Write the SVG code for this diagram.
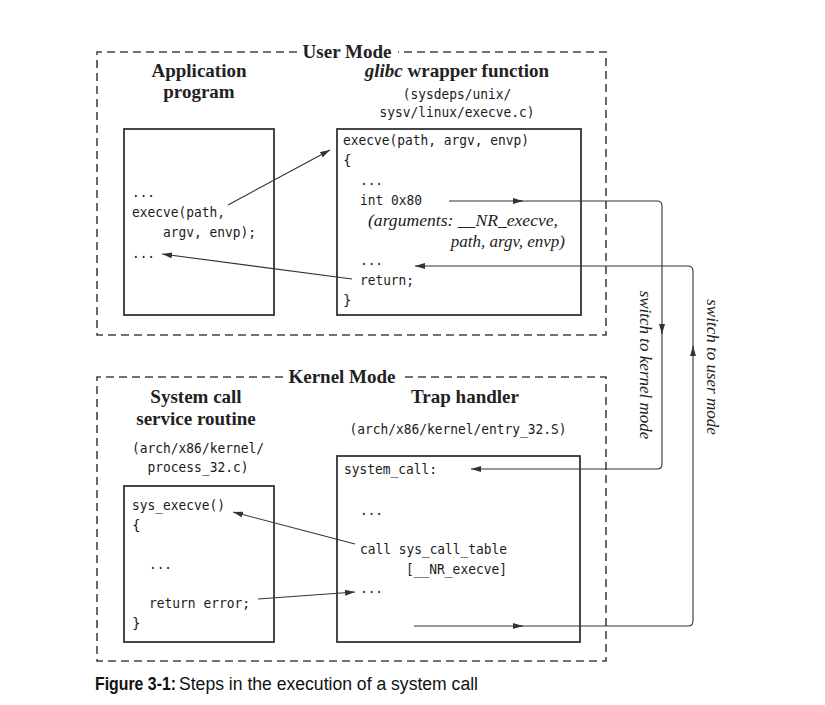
<svg xmlns="http://www.w3.org/2000/svg" width="825" height="705" viewBox="0 0 825 705">
<defs>
<style>
.dash{fill:none;stroke:#444;stroke-width:1.6;stroke-dasharray:8 5}
.box{fill:#fff;stroke:#333;stroke-width:1.8}
.con{fill:none;stroke:#333;stroke-width:1.1}
.h{font-family:"Liberation Serif",serif;font-weight:bold;font-size:19px;fill:#222}
.m{font-family:"DejaVu Sans Mono",monospace;font-size:14.2px;fill:#1a1a1a}
.it{font-family:"Liberation Serif",serif;font-style:italic;font-size:17px;fill:#222}
.cap{font-family:"Liberation Sans",sans-serif;font-size:18px;fill:#111}
</style>
<marker id="ah" viewBox="0 0 10 6" refX="10" refY="3" markerWidth="10" markerHeight="6" markerUnits="userSpaceOnUse" orient="auto">
<path d="M0,0 L10,3 L0,6 z" fill="#333"/>
</marker>
</defs>
<rect width="825" height="705" fill="#fff"/>

<g id="user-mode">
<path class="dash" d="M297,52 H97 V335 H606 V52 H398"/>
<text class="h" x="347" y="58" text-anchor="middle">User Mode</text>
</g>

<g id="kernel-mode">
<path class="dash" d="M283,377 H97 V661 H606 V377 H401"/>
<text class="h" x="342" y="383" text-anchor="middle">Kernel Mode</text>
</g>

<g id="app-program">
<text class="h" x="199" y="77" text-anchor="middle">Application</text>
<text class="h" x="199" y="98" text-anchor="middle">program</text>
<rect class="box" x="124" y="129" width="150" height="186"/>
<text class="m" x="132" y="197" textLength="23" lengthAdjust="spacingAndGlyphs">...</text>
<text class="m" x="132" y="217" textLength="93" lengthAdjust="spacingAndGlyphs">execve(path,</text>
<text class="m" x="163" y="237" textLength="93" lengthAdjust="spacingAndGlyphs">argv, envp);</text>
<text class="m" x="132" y="258" textLength="23" lengthAdjust="spacingAndGlyphs">...</text>
</g>

<g id="glibc-wrapper">
<text class="h" x="457" y="77" text-anchor="middle"><tspan font-style="italic">glibc</tspan> wrapper function</text>
<text class="m" x="457" y="99" text-anchor="middle" textLength="108.5" lengthAdjust="spacingAndGlyphs">(sysdeps/unix/</text>
<text class="m" x="457" y="117" text-anchor="middle" textLength="155" lengthAdjust="spacingAndGlyphs">sysv/linux/execve.c)</text>
<rect class="box" x="337" y="129" width="244" height="186"/>
<text class="m" x="343" y="145" textLength="186" lengthAdjust="spacingAndGlyphs">execve(path, argv, envp)</text>
<text class="m" x="343" y="165">{</text>
<text class="m" x="360" y="185" textLength="23" lengthAdjust="spacingAndGlyphs">...</text>
<text class="m" x="360" y="205" textLength="62" lengthAdjust="spacingAndGlyphs">int 0x80</text>
<text class="it" x="368" y="226" textLength="190" lengthAdjust="spacingAndGlyphs">(arguments: __NR_execve,</text>
<text class="it" x="565" y="247" text-anchor="end">path, argv, envp)</text>
<text class="m" x="360" y="265" textLength="23" lengthAdjust="spacingAndGlyphs">...</text>
<text class="m" x="360" y="285" textLength="54" lengthAdjust="spacingAndGlyphs">return;</text>
<text class="m" x="343" y="305">}</text>
</g>

<g id="service-routine">
<text class="h" x="196" y="403" text-anchor="middle">System call</text>
<text class="h" x="196" y="425" text-anchor="middle">service routine</text>
<text class="m" x="198" y="453" text-anchor="middle" textLength="132" lengthAdjust="spacingAndGlyphs">(arch/x86/kernel/</text>
<text class="m" x="198" y="472" text-anchor="middle" textLength="101" lengthAdjust="spacingAndGlyphs">process_32.c)</text>
<rect class="box" x="124" y="486" width="150" height="156"/>
<text class="m" x="132" y="510" textLength="93" lengthAdjust="spacingAndGlyphs">sys_execve()</text>
<text class="m" x="132" y="530">{</text>
<text class="m" x="149" y="569" textLength="23" lengthAdjust="spacingAndGlyphs">...</text>
<text class="m" x="149" y="608" textLength="101" lengthAdjust="spacingAndGlyphs">return error;</text>
<text class="m" x="132" y="628">}</text>
</g>

<g id="trap-handler">
<text class="h" x="465" y="403" text-anchor="middle">Trap handler</text>
<text class="m" x="458" y="434" text-anchor="middle" textLength="217" lengthAdjust="spacingAndGlyphs">(arch/x86/kernel/entry_32.S)</text>
<rect class="box" x="337" y="456" width="243" height="186"/>
<text class="m" x="344" y="474" textLength="93" lengthAdjust="spacingAndGlyphs">system_call:</text>
<text class="m" x="360" y="515" textLength="23" lengthAdjust="spacingAndGlyphs">...</text>
<text class="m" x="360" y="554" textLength="147" lengthAdjust="spacingAndGlyphs">call sys_call_table</text>
<text class="m" x="406" y="574" textLength="101" lengthAdjust="spacingAndGlyphs">[__NR_execve]</text>
<text class="m" x="360" y="593" textLength="23" lengthAdjust="spacingAndGlyphs">...</text>
</g>

<g id="connectors">
<path class="con" d="M228,205 L330,150" marker-end="url(#ah)"/>
<path class="con" d="M352,279 L162,254" marker-end="url(#ah)"/>
<path class="con" d="M449,201 H523" marker-end="url(#ah)"/>
<path class="con" d="M520,201 H657 Q662,201 662,206 V334" marker-end="url(#ah)"/>
<path class="con" d="M662,330 V464 Q662,469 657,469 H471" marker-end="url(#ah)"/>
<path class="con" d="M414,626 H523" marker-end="url(#ah)"/>
<path class="con" d="M520,626 H688 Q693,626 693,621 V346" marker-end="url(#ah)"/>
<path class="con" d="M693,350 V271 Q693,266 688,266 H415" marker-end="url(#ah)"/>
<path class="con" d="M355,544 L233,512" marker-end="url(#ah)"/>
<path class="con" d="M258,599 L355,592" marker-end="url(#ah)"/>
<text class="it" transform="translate(640,365) rotate(90)" text-anchor="middle">switch to kernel mode</text>
<text class="it" transform="translate(707,367) rotate(90)" text-anchor="middle">switch to user mode</text>
</g>

<g id="caption">
<text class="cap" x="95" y="690"><tspan font-weight="bold" textLength="81" lengthAdjust="spacingAndGlyphs">Figure 3-1:</tspan><tspan x="179" textLength="299" lengthAdjust="spacingAndGlyphs">Steps in the execution of a system call</tspan></text>
</g>
</svg>
